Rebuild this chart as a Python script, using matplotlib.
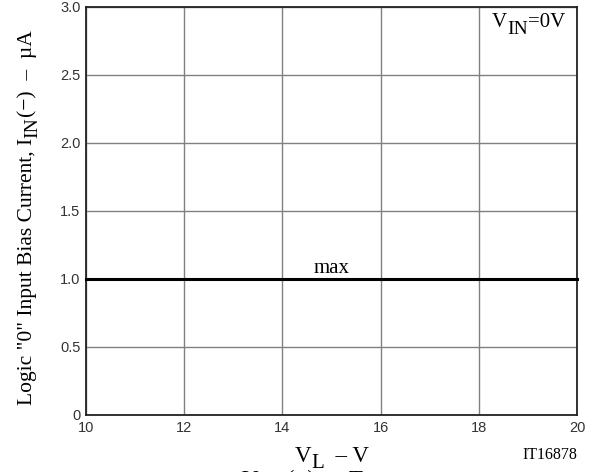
import matplotlib.pyplot as plt
import numpy as np

# data
vl = [10, 20]
iin_max = [1.0, 1.0]
x_ticks = [10, 12, 14, 16, 18, 20]
y_ticks = [0, 0.5, 1.0, 1.5, 2.0, 2.5, 3.0]
y_tick_labels = ['0', '0.5', '1.0', '1.5', '2.0', '2.5', '3.0']

W, H = 599, 472
fig = plt.figure(figsize=(W / 100, H / 100), dpi=100)
ax = fig.add_axes([86 / W, 1 - 415 / H, 491 / W, 408 / H])


def chain_text(x, y, parts, rotation=0):
    # parts: (text, fontsize, shift in px toward the bottom of the letters)
    s0, size0, sh0 = parts[0]
    if rotation == 0:
        prev = fig.text(x / W, 1 - y / H, s0, fontsize=size0, family='Liberation Serif',
                        ha='left', va='bottom')
    else:
        prev = fig.text(x / W, 1 - y / H, s0, fontsize=size0, family='Liberation Serif',
                        ha='right', va='bottom', rotation=90)
    prev_sh = sh0
    for s, size, sh in parts[1:]:
        d = (sh - prev_sh) * 0.72
        if rotation == 0:
            prev = ax.annotate(s, xy=(1, 0), xycoords=prev, xytext=(0, -d),
                               textcoords='offset points', ha='left', va='bottom',
                               fontsize=size, family='Liberation Serif', annotation_clip=False)
        else:
            prev = ax.annotate(s, xy=(1, 1), xycoords=prev, xytext=(d, 0),
                               textcoords='offset points', ha='right', va='bottom',
                               rotation=90, fontsize=size, family='Liberation Serif',
                               annotation_clip=False)
        prev_sh = sh


ax.plot(vl, iin_max, color='black', lw=2.2, clip_on=False, zorder=3)
ax.text(15, 1.005, 'max', ha='center', va='bottom', family='Liberation Serif', fontsize=15)

ax.set_xlim(10, 20)
ax.set_ylim(0, 3.0)
ax.set_xticks(x_ticks)
ax.set_yticks(y_ticks)
ax.set_yticklabels(y_tick_labels)
ax.tick_params(length=0, labelsize=10.5, pad=4)
for lab in ax.get_xticklabels() + ax.get_yticklabels():
    lab.set_family('Liberation Sans')
    lab.set_color('#333333')
ax.grid(True, color='#808080', lw=1)
for s in ax.spines.values():
    s.set_linewidth(1.3)
    s.set_color('#222222')

# y label
chain_text(37, 405, [('Logic "0" Input Bias Current, I', 15.5, 0), ('IN', 14, 4),
                     ('(−)  –  µA', 15.5, 0)], rotation=90)
# condition note
chain_text(492, 32, [('V', 15, 0), ('IN', 14, 6), ('=0V', 15, 0)])
# x label
chain_text(295, 467, [('V', 16.5, 0), ('L', 15, 6), ('  – V', 16.5, 0)])
fig.text(577 / W, 1 - 455 / H, 'IT16878', ha='right', va='center',
         family='Liberation Serif', fontsize=11.5)
# titles cut off at the edges of the original
chain_text(262, -2, [('I', 16.5, 0), ('IN', 15, 6), ('(−)  –  V', 16.5, 0), ('L', 15, 6)])
chain_text(242, 491, [('V', 16.5, 0), ('IN', 15, 6), (' (−)  –  Ta', 16.5, 0)])

fig.savefig('out.png', dpi=100)
